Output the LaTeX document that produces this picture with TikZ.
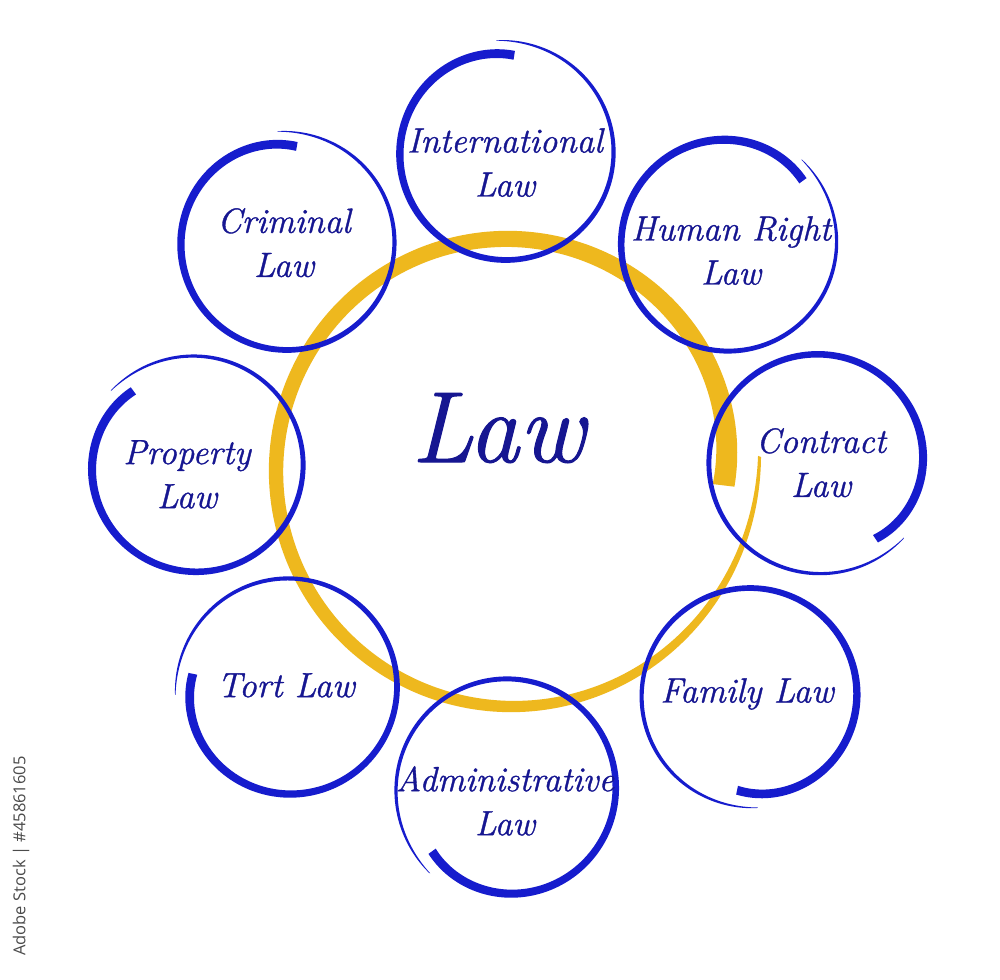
\documentclass[tikz,border=0pt]{standalone}
\usepackage{fontspec}
\newfontfamily\wmfont{Open Sans}
\newfontfamily\lblfont{Latin Modern Roman}[FakeBold=1.0]
\definecolor{ringblue}{RGB}{22,28,205}
\definecolor{lawtext}{RGB}{22,22,145}
\definecolor{lawgold}{RGB}{238,184,30}
\definecolor{wmgray}{RGB}{75,75,75}
% brush ring: cx cy a0 a1 rmid dstart dend
\newcommand{\brushring}[7]{%
 \fill[ringblue] plot[domain=0:1,samples=200]
  ({#1+(#5+(#6)*(1-\x)^8+(#7)*\x^8+(2.5+6.5*(1-\x)-2*\x^20)/2)*cos(#3+(#4-#3)*\x)},
   {#2-(#5+(#6)*(1-\x)^8+(#7)*\x^8+(2.5+6.5*(1-\x)-2*\x^20)/2)*sin(#3+(#4-#3)*\x)})
  -- plot[domain=0:1,samples=200]
  ({#1+(#5+(#6)*\x^8+(#7)*(1-\x)^8-(2.5+6.5*\x-2*(1-\x)^20)/2)*cos(#4-(#4-#3)*\x)},
   {#2-(#5+(#6)*\x^8+(#7)*(1-\x)^8-(2.5+6.5*\x-2*(1-\x)^20)/2)*sin(#4-(#4-#3)*\x)})
  -- cycle;}
\begin{document}
\begin{tikzpicture}[x=1pt,y=-1pt,
  lbl/.style={text=lawtext, font=\lblfont\fontsize{35}{44}\selectfont\itshape, align=center, inner sep=0pt, anchor=north},
  biglbl/.style={text=lawtext, font=\lblfont\fontsize{101}{110}\selectfont\itshape, inner sep=0pt, anchor=base},
  wmark/.style={text=wmgray, font=\wmfont\fontsize{16.5}{18}\selectfont, inner sep=0pt, rotate=90}]
\fill[white] (0,0) rectangle (1000,979);
\useasboundingbox (0,0) rectangle (1000,979);
% central gold ring
\fill[lawgold] plot[domain=0:1,samples=300]
  ({510+(234-20*(1-\x)^8+16*\x^8+(3+12*(1-\x^4)+7*(1-\x)^6)/2)*cos(-4+367.5*\x)},
   {471-(234-20*(1-\x)^8+16*\x^8+(3+12*(1-\x^4)+7*(1-\x)^6)/2)*sin(-4+367.5*\x)})
  -- plot[domain=0:1,samples=300]
  ({510+(234-20*\x^8+16*(1-\x)^8-(3+12*(1-(1-\x)^4)+7*\x^6)/2)*cos(363.5-367.5*\x)},
   {471-(234-20*\x^8+16*(1-\x)^8-(3+12*(1-(1-\x)^4)+7*\x^6)/2)*sin(363.5-367.5*\x)})
  -- cycle;
% blue rings
\brushring{506}{153}{85}{455}{107}{-9}{6}
\brushring{728}{244}{40}{409}{107}{-9}{5}
\brushring{287}{243}{84}{455}{107}{-10}{5}
\brushring{196}{465}{130}{499}{107}{-10}{6}
\brushring{289}{687}{172}{544}{108}{-11}{6}
\brushring{507}{788}{220}{588}{109}{-11}{6}
\brushring{750}{696}{262}{634}{108}{-13}{4}
\brushring{818}{463}{307}{679}{109}{-14}{5}
% labels
\node[biglbl] (law) at (498,462) {Law};
\node[lbl] (intl) at (505,128) {International\\Law};
\node[lbl] (human) at (731,216) {Human Right\\Law};
\node[lbl] (crim) at (284,208) {Criminal\\Law};
\node[lbl] (prop) at (187,440) {Property\\Law};
\node[lbl] (contr) at (821,428) {Contract\\Law};
\node[lbl] (fam) at (747,678) {Family Law};
\node[lbl] (tort) at (286,673) {Tort Law};
\node[lbl] (admin) at (505,766) {Administrative\\Law};
\node[wmark] (wm) at (21,856) {Adobe Stock | \#45861605};
\end{tikzpicture}
\end{document}
